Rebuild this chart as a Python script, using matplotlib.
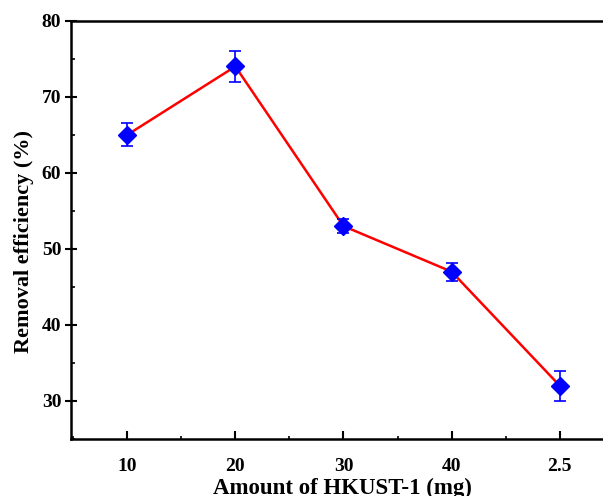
import matplotlib
matplotlib.use("Agg")
import matplotlib.pyplot as plt
from matplotlib.ticker import MultipleLocator

categories = ["10", "20", "30", "40", "2.5"]
efficiency = [65, 74, 53, 47, 32]
errors = [1.5, 2.0, 0.9, 1.2, 2.0]

plt.rcParams['font.family'] = ['Liberation Serif', 'DejaVu Serif']
plt.rcParams['font.weight'] = 'bold'

fig = plt.figure(figsize=(6.03, 4.96), dpi=100)
ax = fig.add_axes([0.1177, 0.115, 1.018 - 0.1177, 0.958 - 0.115])

x = list(range(len(categories)))
ax.plot(x, efficiency, color='red', lw=1.8, zorder=2)
ax.errorbar(x, efficiency, yerr=errors, fmt='D', color='blue', ms=9,
            ecolor='blue', elinewidth=1.2, capsize=4, capthick=1.2, zorder=3)

ax.set_xlim(-0.52, 4.5)
ax.set_ylim(25, 80)
ax.set_xticks(x)
ax.set_xticklabels(categories)
ax.xaxis.set_minor_locator(MultipleLocator(0.5))
ax.yaxis.set_major_locator(MultipleLocator(10))
ax.yaxis.set_minor_locator(MultipleLocator(5))

for s in ax.spines.values():
    s.set_linewidth(1.8)
ax.spines['right'].set_visible(False)

ax.tick_params(axis='x', which='major', direction='in', length=6, width=1.5,
               labelsize=14, pad=14)
ax.tick_params(axis='x', which='minor', direction='in', length=2.5, width=1.2)
ax.tick_params(axis='y', which='major', direction='inout', length=8, width=1.5,
               labelsize=14, pad=3)
ax.tick_params(axis='y', which='minor', direction='in', length=3, width=1.2)
ax.tick_params(top=False, right=False, which='both')

ax.set_xlabel("Amount of HKUST-1 (mg)", fontsize=16.5, fontweight='bold', labelpad=2)
ax.set_ylabel("Removal efficiency (%)", fontsize=16, fontweight='bold')
ax.yaxis.set_label_coords(-0.068, 0.472)

fig.savefig("out.png", dpi=100)
